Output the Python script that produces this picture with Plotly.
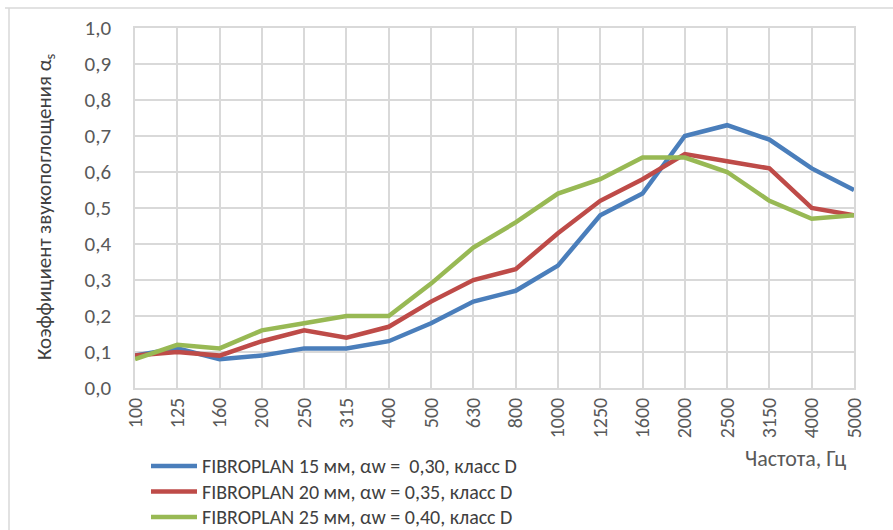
import plotly.graph_objects as go

freqs = ["100", "125", "160", "200", "250", "315", "400", "500", "630", "800",
         "1000", "1250", "1600", "2000", "2500", "3150", "4000", "5000"]
fibro15 = [0.09, 0.11, 0.08, 0.09, 0.11, 0.11, 0.13, 0.18, 0.24, 0.27,
           0.34, 0.48, 0.54, 0.70, 0.73, 0.69, 0.61, 0.55]
fibro20 = [0.09, 0.10, 0.09, 0.13, 0.16, 0.14, 0.17, 0.24, 0.30, 0.33,
           0.43, 0.52, 0.58, 0.65, 0.63, 0.61, 0.50, 0.48]
fibro25 = [0.08, 0.12, 0.11, 0.16, 0.18, 0.20, 0.20, 0.29, 0.39, 0.46,
           0.54, 0.58, 0.64, 0.64, 0.60, 0.52, 0.47, 0.48]
names = ["FIBROPLAN 15 мм, αw =  0,30, класс D",
         "FIBROPLAN 20 мм, αw = 0,35, класс D",
         "FIBROPLAN 25 мм, αw = 0,40, класс D"]
colors = ["#4A7EBB", "#BE4B48", "#98B954"]
y_ticks = [0, 0.1, 0.2, 0.3, 0.4, 0.5, 0.6, 0.7, 0.8, 0.9, 1.0]
y_tick_text = ["0,0", "0,1", "0,2", "0,3", "0,4", "0,5", "0,6", "0,7", "0,8", "0,9", "1,0"]

FONT = "Carlito, Calibri, Lato, 'Noto Sans', sans-serif"
L, R, T, B = 135, 39, 28, 142
PW, PH = 893 - L - R, 530 - T - B


def px(x):
    return (x - L) / PW


def py(y):
    return (388 - y) / PH


fig = go.Figure()
for vals, nm, col in zip([fibro15, fibro20, fibro25], names, colors):
    fig.add_trace(go.Scatter(x=freqs, y=vals, mode="lines", name=nm,
                             line=dict(color=col, width=4.5), showlegend=False))

fig.update_layout(
    width=893, height=530,
    margin=dict(l=L, r=R, t=T, b=B, autoexpand=False),
    paper_bgcolor="white", plot_bgcolor="white",
    font=dict(family=FONT, color="#595959"),
    showlegend=False,
    xaxis=dict(type="category", range=[0, 17], showgrid=True,
               gridcolor="#D9D9D9", gridwidth=1.5, tickangle=-90,
               tickfont=dict(size=20, color="#595959"),
               showline=True, linecolor="#D9D9D9", linewidth=1.5, mirror=True,
               ticks="", zeroline=False),
    yaxis=dict(range=[0, 1.0], tickvals=y_ticks, ticktext=y_tick_text,
               showgrid=True, gridcolor="#D9D9D9", gridwidth=1.5,
               tickfont=dict(size=21, color="#595959"),
               showline=True, linecolor="#D9D9D9", linewidth=1.5, mirror=True,
               ticks="", ticklabelstandoff=18, zeroline=False),
)

# manual legend
for i, (nm, col) in enumerate(zip(names, colors)):
    yy = 466 + i * 25.5
    fig.add_shape(type="line", xref="paper", yref="paper",
                  x0=px(151), x1=px(197), y0=py(yy), y1=py(yy),
                  line=dict(color=col, width=4.5))
    fig.add_annotation(text=nm, xref="paper", yref="paper",
                       x=px(200), y=py(yy), xanchor="left", yanchor="middle",
                       showarrow=False,
                       font=dict(size=20, color="#404040", family=FONT))

# y axis title
fig.add_annotation(text="Коэффициент звукопоглощения α<sub>s</sub>", xref="paper", yref="paper",
                   x=px(45), y=py(207), xanchor="center", yanchor="middle",
                   textangle=-90, showarrow=False,
                   font=dict(size=21, color="#404040", family=FONT))

# outer chart frame
fig.add_shape(type="line", xref="paper", yref="paper",
              x0=px(5), x1=px(893), y0=py(8), y1=py(8),
              line=dict(color="#D9D9D9", width=1.5))
fig.add_shape(type="line", xref="paper", yref="paper",
              x0=px(9), x1=px(9), y0=py(8), y1=py(530),
              line=dict(color="#D9D9D9", width=1.5))

fig.add_annotation(text="Частота, Гц", xref="paper", yref="paper",
                   x=px(848), y=py(458), xanchor="right", yanchor="middle",
                   showarrow=False, font=dict(size=22, color="#595959", family=FONT))

fig.write_html("out.html", config={"displayModeBar": False},
               post_script="document.body.style.margin='0';")
